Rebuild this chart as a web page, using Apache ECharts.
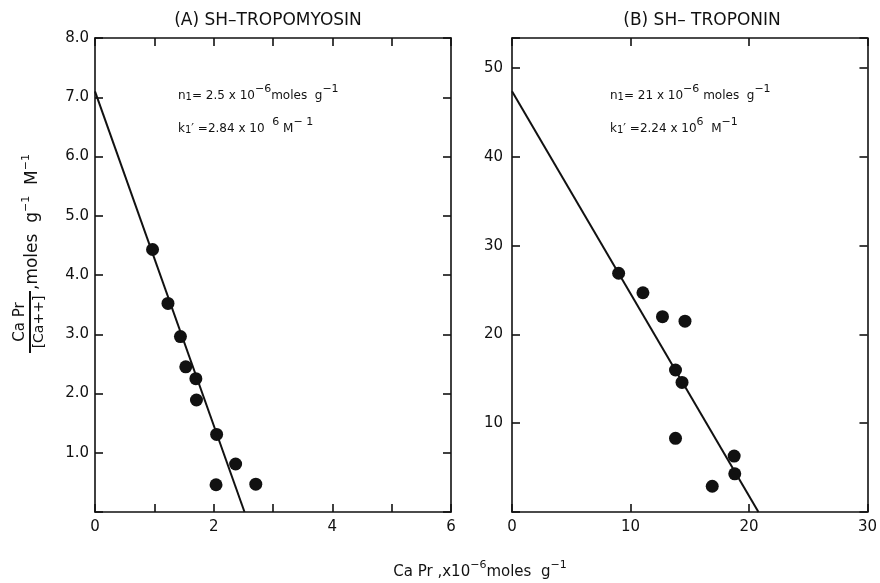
<!DOCTYPE html>
<html>
<head>
<meta charset="utf-8">
<script src="https://cdn.jsdelivr.net/npm/echarts@6/dist/echarts.min.js"></script>
<style>
  html, body { margin: 0; padding: 0; background: #fff; }
  #main { width: 880px; height: 583px; }
</style>
</head>
<body>
<div id="main"></div>
<script>
// (A) SH-tropomyosin: bound Ca (x10^-6 moles/g) vs CaPr/[Ca++]
var tmX = [0.97, 1.23, 1.44, 1.53, 1.70, 1.71, 2.05, 2.37, 2.04, 2.71];
var tmY = [4.43, 3.52, 2.96, 2.45, 2.25, 1.89, 1.31, 0.81, 0.46, 0.47];
var tmFitX = [0, 2.52];
var tmFitY = [7.1, 0];

// (B) SH-troponin
var tnX = [9.0, 11.05, 12.7, 14.6, 13.8, 14.35, 13.8, 18.75, 18.8, 16.9];
var tnY = [26.9, 24.7, 22.0, 21.5, 16.0, 14.6, 8.3, 6.3, 4.3, 2.9];
var tnFitX = [0, 20.8];
var tnFitY = [47.4, 0];

var titles = ['(A) SH\u2013TROPOMYOSIN', '(B) SH\u2013 TROPONIN'];

function zip(xs, ys) {
  return xs.map(function (x, i) { return [x, ys[i]]; });
}

var FONT = 'DejaVu Sans';
var INK = '#111';

var lineStyle = { color: INK, width: 1.6 };
function axisLine() {
  return { show: true, onZero: false, lineStyle: lineStyle };
}
function tickIn(len) {
  return { show: true, inside: true, length: len, lineStyle: { color: INK, width: 1.6 } };
}
var noLabel = { show: false };

function richNotes() {
  return {
    b: { fontFamily: FONT, fontSize: 12, lineHeight: 18, verticalAlign: 'bottom', fill: INK },
    sup: { fontFamily: FONT, fontSize: 11, lineHeight: 18, verticalAlign: 'top', padding: [0, 0, 6, 0], fill: INK },
    sub: { fontFamily: FONT, fontSize: 10, lineHeight: 18, verticalAlign: 'bottom', padding: [5, 0, 0, 0], fill: INK }
  };
}
function richName(size) {
  return {
    b: { fontFamily: FONT, fontSize: size, lineHeight: 20, verticalAlign: 'bottom', fill: INK },
    sup: { fontFamily: FONT, fontSize: 11, lineHeight: 20, verticalAlign: 'top', padding: [0, 0, 6, 0], fill: INK }
  };
}

var chart = echarts.init(document.getElementById('main'));

chart.setOption({
  backgroundColor: '#fff',
  animation: false,
  title: [
    { text: titles[0], left: 263, top: 7, textAlign: 'center',
      textStyle: { fontFamily: FONT, fontSize: 17, fontWeight: 'normal', color: INK } },
    { text: titles[1], left: 697, top: 7, textAlign: 'center',
      textStyle: { fontFamily: FONT, fontSize: 17, fontWeight: 'normal', color: INK } }
  ],
  grid: [
    { left: 95, top: 38, width: 356, height: 474 },
    { left: 512, top: 38, width: 357, height: 474 }
  ],
  xAxis: [
    { gridIndex: 0, type: 'value', min: 0, max: 6, interval: 1, position: 'bottom',
      axisLine: axisLine(), axisTick: tickIn(8), splitLine: { show: false },
      axisLabel: { color: INK, fontFamily: FONT, fontSize: 15, margin: 8,
        formatter: function (v) { return v % 2 === 0 ? String(v) : ''; } } },
    { gridIndex: 0, type: 'value', min: 0, max: 6, interval: 1, position: 'top',
      axisLine: axisLine(), axisTick: tickIn(8), splitLine: { show: false },
      axisLabel: noLabel },
    { gridIndex: 1, type: 'value', min: 0, max: 30, interval: 10, position: 'bottom',
      axisLine: axisLine(), axisTick: tickIn(8), splitLine: { show: false },
      axisLabel: { color: INK, fontFamily: FONT, fontSize: 15, margin: 8 } },
    { gridIndex: 1, type: 'value', min: 0, max: 30, interval: 10, position: 'top',
      axisLine: axisLine(), axisTick: tickIn(8), splitLine: { show: false },
      axisLabel: noLabel }
  ],
  yAxis: [
    { gridIndex: 0, type: 'value', min: 0, max: 8, interval: 1, position: 'left',
      axisLine: axisLine(), axisTick: tickIn(8), splitLine: { show: false },
      axisLabel: { color: INK, fontFamily: FONT, fontSize: 15, margin: 6,
        formatter: function (v) { return v === 0 ? '' : v.toFixed(1); } } },
    { gridIndex: 0, type: 'value', min: 0, max: 8, interval: 1, position: 'right',
      axisLine: axisLine(), axisTick: tickIn(8), splitLine: { show: false },
      axisLabel: noLabel },
    { gridIndex: 1, type: 'value', min: 0, max: 53.4, interval: 10, position: 'left',
      axisLine: axisLine(), axisTick: tickIn(8), splitLine: { show: false },
      axisLabel: { color: INK, fontFamily: FONT, fontSize: 15, margin: 9,
        formatter: function (v) { return (v === 0 || v % 10 !== 0) ? '' : String(v); } } },
    { gridIndex: 1, type: 'value', min: 0, max: 53.4, interval: 10, position: 'right',
      axisLine: axisLine(), axisTick: tickIn(8), splitLine: { show: false },
      axisLabel: noLabel }
  ],
  series: [
    { type: 'line', xAxisIndex: 0, yAxisIndex: 0, data: zip(tmFitX, tmFitY),
      symbol: 'none', lineStyle: { color: INK, width: 2 } },
    { type: 'scatter', xAxisIndex: 0, yAxisIndex: 0, data: zip(tmX, tmY),
      symbol: 'circle', symbolSize: 13, itemStyle: { color: INK, opacity: 1 } },
    { type: 'line', xAxisIndex: 2, yAxisIndex: 2, data: zip(tnFitX, tnFitY),
      symbol: 'none', lineStyle: { color: INK, width: 2 } },
    { type: 'scatter', xAxisIndex: 2, yAxisIndex: 2, data: zip(tnX, tnY),
      symbol: 'circle', symbolSize: 13, itemStyle: { color: INK, opacity: 1 } }
  ],
  graphic: [
    // panel annotations
    { type: 'text', x: 178, y: 84, style: {
        text: '{b|n}{sub|1}{b|= 2.5 x 10}{sup|\u22126}{b|moles  g}{sup|\u22121}',
        rich: richNotes(), fill: INK } },
    { type: 'text', x: 178, y: 117, style: {
        text: '{b|k}{sub|1}{b|\u2032 =2.84 x 10  }{sup|6}{b| M}{sup|\u2212 1}',
        rich: richNotes(), fill: INK } },
    { type: 'text', x: 610, y: 84, style: {
        text: '{b|n}{sub|1}{b|= 21 x 10}{sup|\u22126}{b| moles  g}{sup|\u22121}',
        rich: richNotes(), fill: INK } },
    { type: 'text', x: 610, y: 117, style: {
        text: '{b|k}{sub|1}{b|\u2032 =2.24 x 10}{sup|6}{b|  M}{sup|\u22121}',
        rich: richNotes(), fill: INK } },
    // x axis name
    { type: 'text', x: 480, y: 560, style: {
        text: '{b|Ca Pr ,x10}{sup|\u22126}{b|moles  g}{sup|\u22121}',
        align: 'center', rich: richName(15), fill: INK } },
    // y axis name, rotated, with fraction
    { type: 'group', x: 30, y: 353, rotation: Math.PI / 2, children: [
      { type: 'text', x: 31, y: -2, style: { text: 'Ca Pr', align: 'center', verticalAlign: 'bottom',
          font: '15px "DejaVu Sans"', fill: INK } },
      { type: 'line', shape: { x1: 0, y1: 0, x2: 62, y2: 0 }, style: { stroke: INK, lineWidth: 2 } },
      { type: 'text', x: 31, y: 2, style: { text: '[Ca++]', align: 'center', verticalAlign: 'top',
          font: '14px "DejaVu Sans"', fill: INK } },
      { type: 'text', x: 63, y: -9, style: {
          text: '{b|,moles  g}{sup|\u22121}{b|  M}{sup|\u22121}', rich: richName(17), fill: INK } }
    ] }
  ]
});
</script>
</body>
</html>
